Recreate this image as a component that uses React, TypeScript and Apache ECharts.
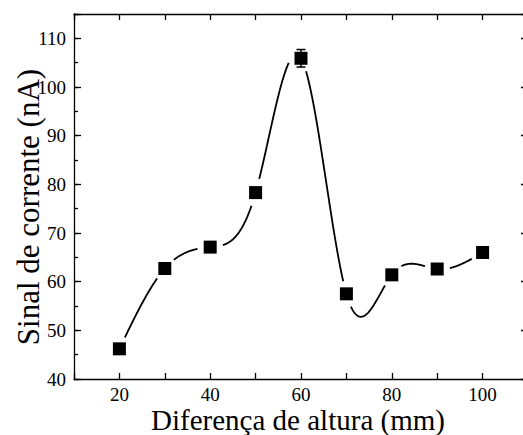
import React, { useEffect, useRef } from "react";
import * as echarts from "echarts";

const heights = [20, 30, 40, 50, 60, 70, 80, 90, 100];
const signal = [46.2, 62.7, 67.1, 78.3, 105.9, 57.5, 61.4, 62.6, 66.0];
const errors = [1.0, 1.0, 1.0, 1.0, 1.8, 1.0, 1.0, 1.0, 1.0];
const xTickLabels = [20, 40, 60, 80, 100];
const yTickLabels = [40, 50, 60, 70, 80, 90, 100, 110];
const xTitle = "Diferença de altura (mm)";
const yTitle = "Sinal de corrente (nA)";

const FONT = "Liberation Serif";

function naturalSpline(xs: number[], ys: number[]) {
  const n = xs.length;
  const h: number[] = [];
  for (let i = 0; i < n - 1; i++) h.push(xs[i + 1] - xs[i]);
  const M = new Array(n).fill(0);
  const a = new Array(n).fill(0);
  const b = new Array(n).fill(0);
  const c = new Array(n).fill(0);
  const d = new Array(n).fill(0);
  for (let i = 1; i < n - 1; i++) {
    a[i] = h[i - 1];
    b[i] = 2 * (h[i - 1] + h[i]);
    c[i] = h[i];
    d[i] = 6 * ((ys[i + 1] - ys[i]) / h[i] - (ys[i] - ys[i - 1]) / h[i - 1]);
  }
  const cp = new Array(n).fill(0);
  const dp = new Array(n).fill(0);
  for (let i = 1; i < n - 1; i++) {
    const m = b[i] - a[i] * cp[i - 1];
    cp[i] = c[i] / m;
    dp[i] = (d[i] - a[i] * dp[i - 1]) / m;
  }
  for (let i = n - 2; i >= 1; i--) {
    M[i] = dp[i] - cp[i] * M[i + 1];
  }
  return (x: number) => {
    let i = 0;
    while (i < n - 2 && x > xs[i + 1]) i++;
    const hi = h[i];
    const A = (xs[i + 1] - x) / hi;
    const B = (x - xs[i]) / hi;
    return (
      A * ys[i] +
      B * ys[i + 1] +
      ((A * A * A - A) * M[i] + (B * B * B - B) * M[i + 1]) * (hi * hi) / 6
    );
  };
}

export default function App() {
  const ref = useRef<HTMLDivElement>(null);

  useEffect(() => {
    if (!ref.current) return;
    const chart = echarts.init(ref.current, undefined, { renderer: "svg" });
    const spline = naturalSpline(heights, signal);
    const points = heights.map((x, i) => [x, signal[i], errors[i]]);

    const axisLine = { show: true, lineStyle: { color: "#000", width: 1.3 } };
    const tickStyle = { color: "#000", width: 1.3 };
    const labelStyle = { color: "#000", fontFamily: FONT, fontSize: 19 };

    const option: any = {
      animation: false,
      backgroundColor: "#fff",
      grid: { left: 74, top: 14, width: 454, height: 365, containLabel: false },
      xAxis: [
        {
          type: "value",
          position: "bottom",
          min: 10,
          max: 110,
          interval: 10,
          axisLine,
          axisTick: { show: true, inside: true, length: 6, lineStyle: tickStyle },
          axisLabel: {
            ...labelStyle,
            margin: 6,
            formatter: (v: number) => (xTickLabels.includes(v) ? String(v) : ""),
          },
          splitLine: { show: false },
        },
        {
          type: "value",
          position: "top",
          min: 10,
          max: 110,
          interval: 10,
          axisLine,
          axisTick: { show: true, inside: true, length: 6, lineStyle: tickStyle },
          axisLabel: { show: false },
          splitLine: { show: false },
        },
      ],
      yAxis: [
        {
          type: "value",
          position: "left",
          min: 40,
          max: 115,
          interval: 10,
          axisLine,
          axisTick: { show: true, inside: true, length: 7, lineStyle: tickStyle },
          axisLabel: {
            ...labelStyle,
            margin: 8,
            formatter: (v: number) => (yTickLabels.includes(v) ? String(v) : ""),
          },
          splitLine: { show: false },
        },
        {
          type: "value",
          position: "left",
          min: 40,
          max: 115,
          interval: 5,
          axisLine: { show: false },
          axisTick: { show: true, inside: true, length: 4, lineStyle: tickStyle },
          axisLabel: { show: false },
          splitLine: { show: false },
        },
        {
          type: "value",
          position: "right",
          min: 40,
          max: 115,
          interval: 10,
          axisLine,
          axisTick: { show: true, inside: true, length: 7, lineStyle: tickStyle },
          axisLabel: { show: false },
          splitLine: { show: false },
        },
        {
          type: "value",
          position: "right",
          min: 40,
          max: 115,
          interval: 5,
          axisLine: { show: false },
          axisTick: { show: true, inside: true, length: 4, lineStyle: tickStyle },
          axisLabel: { show: false },
          splitLine: { show: false },
        },
      ],
      series: [
        {
          type: "custom",
          xAxisIndex: 0,
          yAxisIndex: 0,
          z: 2,
          silent: true,
          clip: false,
          data: points,
          renderItem: (params: any, api: any) => {
            if (params.dataIndex !== 0) return null;
            const centers = heights.map((x, i) => api.coord([x, signal[i]]));
            const gap = 12.5;
            const segs: number[][][] = [];
            let cur: number[][] = [];
            const x0 = heights[0];
            const x1 = heights[heights.length - 1];
            const steps = 800;
            for (let k = 0; k <= steps; k++) {
              const x = x0 + ((x1 - x0) * k) / steps;
              const p = api.coord([x, spline(x)]);
              const near = centers.some(
                (c: number[]) => Math.hypot(c[0] - p[0], c[1] - p[1]) < gap
              );
              if (near) {
                if (cur.length > 1) segs.push(cur);
                cur = [];
              } else {
                cur.push(p);
              }
            }
            if (cur.length > 1) segs.push(cur);
            return {
              type: "group",
              children: segs.map((pts) => ({
                type: "polyline",
                shape: { points: pts },
                style: { stroke: "#000", lineWidth: 1.8, fill: null },
              })),
            };
          },
        },
        {
          type: "custom",
          xAxisIndex: 0,
          yAxisIndex: 0,
          z: 3,
          silent: true,
          clip: false,
          data: points,
          renderItem: (params: any, api: any) => {
            const x = api.value(0);
            const y = api.value(1);
            const e = api.value(2);
            const top = api.coord([x, y + e]);
            const bot = api.coord([x, y - e]);
            const hw = 4.5;
            const st = { stroke: "#000", lineWidth: 1.5 };
            return {
              type: "group",
              children: [
                { type: "line", shape: { x1: top[0], y1: top[1], x2: bot[0], y2: bot[1] }, style: st },
                { type: "line", shape: { x1: top[0] - hw, y1: top[1], x2: top[0] + hw, y2: top[1] }, style: st },
                { type: "line", shape: { x1: bot[0] - hw, y1: bot[1], x2: bot[0] + hw, y2: bot[1] }, style: st },
              ],
            };
          },
        },
        {
          type: "scatter",
          xAxisIndex: 0,
          yAxisIndex: 0,
          z: 4,
          symbol: "rect",
          symbolSize: 13,
          itemStyle: { color: "#000", opacity: 1 },
          data: heights.map((x, i) => [x, signal[i]]),
        },
      ],
      graphic: [
        {
          type: "text",
          x: 298,
          y: 420,
          style: {
            text: xTitle,
            fontFamily: FONT,
            fontSize: 29,
            lineHeight: 26,
            fill: "#000",
            textAlign: "center",
            textVerticalAlign: "middle",
          },
        },
        {
          type: "text",
          x: 28.5,
          y: 207,
          rotation: Math.PI / 2,
          style: {
            text: yTitle,
            fontFamily: FONT,
            fontSize: 31,
            lineHeight: 28,
            fill: "#000",
            textAlign: "center",
            textVerticalAlign: "middle",
          },
        },
      ],
    };
    chart.setOption(option);
    return () => chart.dispose();
  }, []);

  return (
    <div
      style={{
        position: "absolute",
        left: 0,
        top: 0,
        width: 523,
        height: 435,
        overflow: "hidden",
      }}
    >
      <div ref={ref} style={{ width: 540, height: 435 }} />
    </div>
  );
}
